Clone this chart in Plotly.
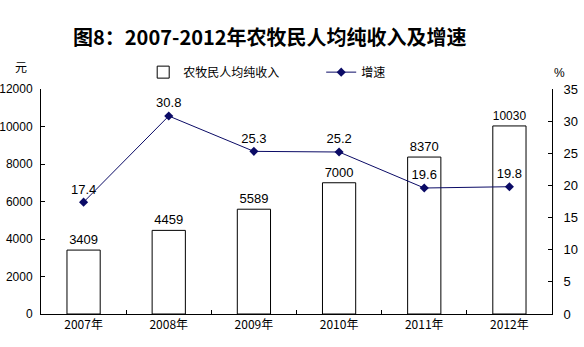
import plotly.graph_objects as go

years = ["2007年", "2008年", "2009年", "2010年", "2011年", "2012年"]
income = [3409, 4459, 5589, 7000, 8370, 10030]
growth = [17.4, 30.8, 25.3, 25.2, 19.6, 19.8]

income_ticks = [0, 2000, 4000, 6000, 8000, 10000, 12000]
growth_ticks = [0, 5, 10, 15, 20, 25, 30, 35]

CJK = "Noto Sans CJK SC"
NUM = "Liberation Sans, Arial, sans-serif"
NAVY = "#0b0b66"

fig = go.Figure()

fig.add_trace(go.Bar(
    x=years, y=income, name="农牧民人均纯收入",
    marker=dict(color="white", line=dict(color="black", width=1)),
    width=0.39,
    text=[str(v) for v in income], textposition="outside",
    textfont=dict(family=NUM, size=13, color="black"),
    cliponaxis=False,
))

fig.add_trace(go.Scatter(
    x=years, y=growth, name="增速", yaxis="y2",
    mode="lines+markers+text",
    line=dict(color=NAVY, width=1),
    marker=dict(symbol="diamond", size=7, color=NAVY),
    text=[f"{v:.1f}" for v in growth], textposition="top center",
    textfont=dict(family=NUM, size=13, color="black"),
    cliponaxis=False,
))

fig.update_layout(
    width=584, height=347,
    margin=dict(l=41, r=32, t=89, b=33),
    paper_bgcolor="white", plot_bgcolor="white",
    bargap=0.61,
    title=dict(
        text="<b>图8：2007-2012年农牧民人均纯收入及增速</b>",
        x=0.462, xanchor="center", y=0.89, yanchor="middle",
        font=dict(family=CJK, size=20, color="black"),
    ),
    showlegend=True,
    legend=dict(
        orientation="h", x=0.2, xanchor="left", y=1.075, yanchor="middle",
        font=dict(family=CJK, size=12, color="black"),
        itemwidth=30, entrywidth=133, bgcolor="rgba(0,0,0,0)",
    ),
    xaxis=dict(
        type="category", tickson="boundaries", ticks="inside", ticklen=4,
        tickcolor="black", showline=True, linecolor="black", linewidth=1,
        showgrid=False, tickfont=dict(family=CJK, size=12, color="black"),
        automargin=False,
    ),
    yaxis=dict(
        range=[0, 12000], tickvals=income_ticks, tickformat="d",
        ticks="inside", ticklen=4,
        tickcolor="black", showline=True, linecolor="black", linewidth=1,
        showgrid=False, zeroline=False,
        tickfont=dict(family=NUM, size=12, color="black"),
        ticklabelstandoff=5, automargin=False,
    ),
    yaxis2=dict(
        range=[0, 35], tickvals=growth_ticks, overlaying="y", side="right",
        ticks="inside", ticklen=4, tickcolor="black",
        showline=True, linecolor="black", linewidth=1,
        showgrid=False, zeroline=False,
        tickfont=dict(family=NUM, size=13, color="black"),
        ticklabelstandoff=8, automargin=False,
    ),
    annotations=[
        dict(text="元", xref="paper", yref="paper", x=-0.055, y=1.098,
             yanchor="middle",
             showarrow=False, font=dict(family=CJK, size=12, color="black")),
        dict(text="%", xref="paper", yref="paper", x=1.03, y=1.07,
             yanchor="middle",
             showarrow=False, font=dict(family=NUM, size=12, color="black")),
    ],
)

fig.write_html("out.html")
